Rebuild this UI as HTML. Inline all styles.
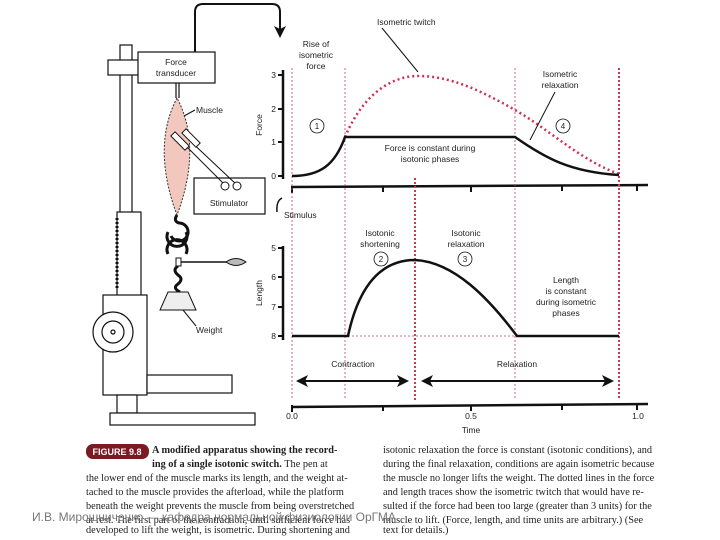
<!DOCTYPE html>
<html><head><meta charset="utf-8"><style>
body{margin:0;background:#fff;width:720px;height:540px;overflow:hidden;font-family:"Liberation Sans",sans-serif}
.cap{position:absolute;font-family:"Liberation Serif",serif;font-size:10.3px;line-height:13.5px;color:#222;white-space:nowrap}
</style></head><body>
<svg width="720" height="540" style="position:absolute;left:0;top:0" font-family="Liberation Sans, sans-serif" font-size="8.5" fill="#222">
<defs><marker id="ah" markerWidth="6" markerHeight="6" refX="5" refY="3" orient="auto"><path d="M0,0 L6,3 L0,6 L1.5,3z" fill="#111"/></marker></defs>
<g stroke="#111" stroke-width="1.2" fill="#fff">
<rect x="120" y="45" width="12" height="170"/>
<rect x="108" y="60" width="32" height="15"/>
<rect x="138" y="52" width="77" height="31"/>
<rect x="117" y="212" width="24" height="84"/>
<rect x="103" y="295" width="44" height="100"/>
<rect x="147" y="375" width="85" height="18"/>
<rect x="117" y="395" width="20" height="18"/>
<rect x="110" y="413" width="145" height="12"/>
<circle cx="113" cy="332" r="20"/><circle cx="113" cy="332" r="11"/><circle cx="113" cy="332" r="2"/>
<rect x="194" y="178" width="71" height="36"/>
<line x1="176" y1="83" x2="176" y2="98"/><line x1="179" y1="83" x2="179" y2="98"/>
</g>
<path d="M117,218 v70" stroke="#111" stroke-width="3" stroke-dasharray="2,2"/>
<text x="176" y="65" text-anchor="middle">Force</text><text x="176" y="76" text-anchor="middle">transducer</text>
<text x="229" y="206" text-anchor="middle">Stimulator</text>
<path d="M177,98 C160,130 160,170 177,215 C194,170 194,130 177,98z" fill="#f2c7bd" stroke="#333" stroke-dasharray="2,1.5"/>
<text x="196" y="113">Muscle</text><line x1="195" y1="110" x2="184" y2="116" stroke="#111"/>
<g stroke="#111" stroke-width="1" fill="#fff">
<line x1="180" y1="140" x2="225" y2="185"/><line x1="186" y1="137" x2="237" y2="185"/>
<rect x="170" y="138" width="20" height="6" transform="rotate(45 180 141)"/>
<rect x="181" y="135" width="20" height="6" transform="rotate(45 191 138)"/>
<circle cx="225" cy="186" r="4"/><circle cx="237" cy="186" r="4"/>
</g>
<g stroke="#111" stroke-width="3" fill="none">
<path d="M177,215 q-4,6 2,8 a9,9 0 1 1 -8,13"/>
<path d="M168,232 a10,10 0 1 0 18,0"/><path d="M168,254 a10,10 0 1 1 18,0"/>
<path d="M178,266 q-6,4 0,9 q6,4 0,9 q-6,4 2,8"/>
</g>
<rect x="176" y="258" width="5" height="8" fill="#fff" stroke="#111"/>
<line x1="181" y1="262" x2="228" y2="262" stroke="#111" stroke-width="1.5"/>
<path d="M226,262 q10,-7 20,0 q-10,7 -20,0z" fill="#bbb" stroke="#111"/>
<path d="M168,292 h20 l8,18 h-36z" fill="#eee" stroke="#111"/>
<line x1="183" y1="310" x2="196" y2="326" stroke="#111"/><text x="196" y="333">Weight</text>
<path d="M195,52 V12 q0,-8 8,-8 H272 q8,0 8,8 V36" stroke="#111" stroke-width="2" fill="none" marker-end="url(#ah)"/>
<g stroke="#111" stroke-width="2.5" fill="none">
<line x1="283" y1="70" x2="283" y2="179"/>
<line x1="291" y1="187" x2="648" y2="185"/>
<line x1="283" y1="246" x2="283" y2="340"/>
<line x1="291" y1="407" x2="648" y2="404"/>
</g>
<g stroke="#111" stroke-width="2"><path d="M278,75h5M278,109h5M278,142h5M278,176h5M278,248h5M278,277h5M278,307h5M278,336h5"/>
<path d="M292,186v7M383,186v6M471,186v6M562,185v6M637,185v6M292,405v7M383,405v6M471,405v6M562,404v6M637,404v6"/></g>
<text x="276" y="78" text-anchor="end">3</text><text x="276" y="112" text-anchor="end">2</text><text x="276" y="145" text-anchor="end">1</text><text x="276" y="179" text-anchor="end">0</text>
<text x="276" y="251" text-anchor="end">5</text><text x="276" y="280" text-anchor="end">6</text><text x="276" y="310" text-anchor="end">7</text><text x="276" y="339" text-anchor="end">8</text>
<text transform="translate(262,125) rotate(-90)" text-anchor="middle">Force</text>
<text transform="translate(262,293) rotate(-90)" text-anchor="middle">Length</text>
<text x="292" y="419" text-anchor="middle">0.0</text><text x="471" y="419" text-anchor="middle">0.5</text><text x="638" y="419" text-anchor="middle">1.0</text>
<text x="471" y="433" text-anchor="middle">Time</text>
<g stroke="#c0405a" fill="none">
<line x1="292" y1="68" x2="292" y2="400" stroke-width="0.8" stroke-dasharray="2,2"/>
<line x1="345" y1="68" x2="345" y2="400" stroke-width="0.8" stroke-dasharray="2,2"/>
<line x1="415" y1="178" x2="415" y2="400" stroke-width="2" stroke-dasharray="2,2"/>
<line x1="515" y1="68" x2="515" y2="400" stroke-width="0.8" stroke-dasharray="2,2"/>
<line x1="619" y1="68" x2="619" y2="400" stroke-width="2" stroke-dasharray="2,2"/>
<path d="M345,137 C365,90 395,76 418,76 C450,76 480,90 515,110 C550,130 580,160 619,174" stroke-width="2.5" stroke-dasharray="2,3" stroke="#d03050"/>
<line x1="348" y1="336" x2="517" y2="336" stroke-width="0.8" stroke-dasharray="2,2"/>
</g>
<g stroke="#111" stroke-width="2.5" fill="none">
<path d="M292,176 C320,176 335,165 345,137 H515 C545,158 570,172 619,175"/>
<path d="M292,336 H348 C360,280 385,260 415,260 C455,262 490,300 517,336 H619"/>
</g>
<text x="377" y="25">Isometric twitch</text><line x1="382" y1="28" x2="418" y2="72" stroke="#111"/>
<text x="316" y="47" text-anchor="middle">Rise of</text><text x="316" y="58" text-anchor="middle">isometric</text><text x="316" y="69" text-anchor="middle">force</text>
<text x="560" y="77" text-anchor="middle">Isometric</text><text x="560" y="88" text-anchor="middle">relaxation</text><line x1="555" y1="92" x2="530" y2="140" stroke="#111"/>
<text x="430" y="151" text-anchor="middle">Force is constant during</text><text x="430" y="162" text-anchor="middle">isotonic phases</text>
<g fill="none" stroke="#111" stroke-width="0.8"><circle cx="317" cy="126" r="7"/><circle cx="563" cy="126" r="7"/><circle cx="381" cy="259" r="7"/><circle cx="465" cy="259" r="7"/></g>
<text x="317" y="129" text-anchor="middle" font-size="8">1</text><text x="563" y="129" text-anchor="middle" font-size="8">4</text>
<text x="381" y="262" text-anchor="middle" font-size="8">2</text><text x="465" y="262" text-anchor="middle" font-size="8">3</text>
<text x="284" y="218">Stimulus</text><path d="M282,198 q-6,3 -5,14" stroke="#111" stroke-width="1.5" fill="none"/>
<text x="380" y="236" text-anchor="middle">Isotonic</text><text x="380" y="247" text-anchor="middle">shortening</text>
<text x="466" y="236" text-anchor="middle">Isotonic</text><text x="466" y="247" text-anchor="middle">relaxation</text>
<text x="566" y="283" text-anchor="middle">Length</text><text x="566" y="294" text-anchor="middle">is constant</text><text x="566" y="305" text-anchor="middle">during isometric</text><text x="566" y="316" text-anchor="middle">phases</text>
<text x="353" y="367" text-anchor="middle">Contraction</text><text x="517" y="367" text-anchor="middle">Relaxation</text>
<g stroke="#111" stroke-width="2" marker-end="url(#ah)">
<line x1="300" y1="381" x2="407" y2="381"/><line x1="407" y1="381" x2="298" y2="381"/>
<line x1="425" y1="381" x2="612" y2="381"/><line x1="611" y1="381" x2="423" y2="381"/>
</g>
<rect x="86" y="444" width="63" height="15" rx="7" fill="#7a1a22"/>
<text x="117" y="455" text-anchor="middle" fill="#fff" font-weight="bold" font-size="9">FIGURE 9.8</text>
</svg>
<div class="cap" style="left:152px;top:444px"><b>A modified apparatus showing the record-</b></div>
<div class="cap" style="left:152px;top:458px"><b>ing of a single isotonic switch.</b> The pen at</div>
<div class="cap" style="left:86px;top:472px">the lower end of the muscle marks its length, and the weight at-</div>
<div class="cap" style="left:86px;top:486px">tached to the muscle provides the afterload, while the platform</div>
<div class="cap" style="left:86px;top:500px">beneath the weight prevents the muscle from being overstretched</div>
<div class="cap" style="left:86px;top:514px">at rest. The first part of the contraction, until sufficient force has</div>
<div class="cap" style="left:86px;top:524px">developed to lift the weight, is isometric. During shortening and</div>
<div class="cap" style="left:383px;top:444px">isotonic relaxation the force is constant (isotonic conditions), and</div>
<div class="cap" style="left:383px;top:458px">during the final relaxation, conditions are again isometric because</div>
<div class="cap" style="left:383px;top:472px">the muscle no longer lifts the weight. The dotted lines in the force</div>
<div class="cap" style="left:383px;top:486px">and length traces show the isometric twitch that would have re-</div>
<div class="cap" style="left:383px;top:500px">sulted if the force had been too large (greater than 3 units) for the</div>
<div class="cap" style="left:383px;top:514px">muscle to lift. (Force, length, and time units are arbitrary.) (See</div>
<div class="cap" style="left:383px;top:524px">text for details.)</div>
<div style="position:absolute;left:32px;top:510px;font-size:12px;color:#777;white-space:nowrap">И.В. Мирошниченко — кафедра нормальной физиологии ОрГМА</div>
</body></html>
